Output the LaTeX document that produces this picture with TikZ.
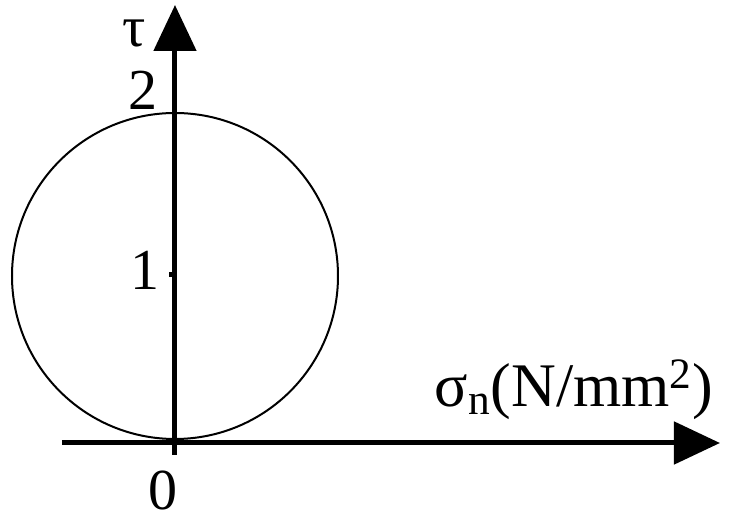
\documentclass[tikz,border=0pt]{standalone}
\usepackage{fontspec}
\setmainfont{Liberation Serif}
\usetikzlibrary{positioning,arrows.meta}

\begin{document}
\begin{tikzpicture}[
  x=0.5pt,y=0.5pt,
  every node/.style={font=\fontsize{29}{29}\selectfont,inner sep=0pt},
  axis/.style={line width=2.5pt,-{Triangle[length=23pt,width=21pt]}},
  mohr/.style={draw,line width=1pt}
]
  \useasboundingbox (-175,-77) rectangle (577,443);
  % axes
  \coordinate (O) at (0,0);
  \coordinate (xstart) at (-113,0);
  \coordinate (xend) at (545,0);
  \coordinate (ystart) at (0,-12);
  \coordinate (yend) at (0,438);
  \draw[axis] (xstart) -- (xend);
  \draw[axis] (ystart) -- (yend);
  % circle
  \draw[mohr] (0,167) circle[radius=163];
  \coordinate (one) at (0,168);
  \coordinate (onetick) at (-6,168);
  \draw[line width=2.5pt] (one) -- (onetick);
  % labels
  \node (tau) at (-41,410) {τ};
  \node (two) at (-32,353) {2};
  \node (onelabel) at (-30,173) {1};
  \node (zero) at (-12,-48) {0};
  \node[font=\fontsize{31}{31}\selectfont] (sigma) at (399,53)
    {σ\textsubscript{n}(N/mm\textsuperscript{2})};
\end{tikzpicture}
\end{document}
